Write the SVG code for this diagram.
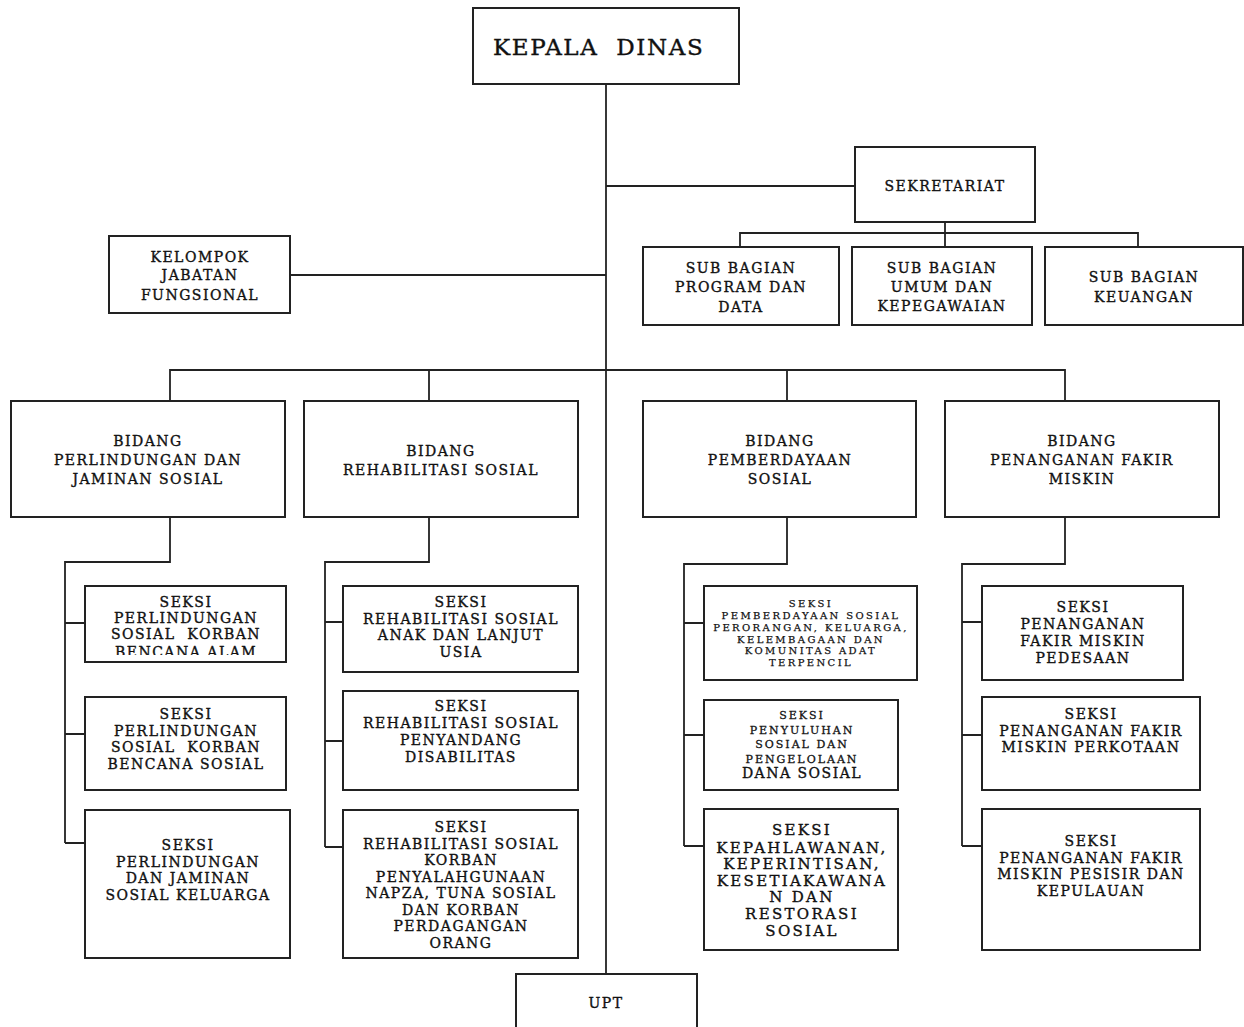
<svg xmlns="http://www.w3.org/2000/svg" width="1244" height="1027" viewBox="0 0 1244 1027">
<style>
.box{fill:#fff;stroke:#222;stroke-width:2}
.ln{fill:none;stroke:#222;stroke-width:1.8}
text{font-family:"DejaVu Serif","Liberation Serif",serif;fill:#111;stroke:#111;stroke-width:0.35;text-anchor:middle;dominant-baseline:central}
.t{font-size:14px;letter-spacing:1.5px}
.s{font-size:10px;letter-spacing:2.4px;stroke-width:0.25}
.m{font-size:11px;letter-spacing:2px;stroke-width:0.3}
.l{font-size:15px;letter-spacing:2.3px}
.h{font-size:23px;letter-spacing:1.6px;text-anchor:start;stroke-width:0.4}
</style>
<defs>
<clipPath id="clipA"><rect x="85" y="586" width="201" height="69"/></clipPath>
</defs>
<rect width="1244" height="1027" fill="#fff"/>
<g id="connectors">
<path class="ln" d="M606 84V974"/>
<path class="ln" d="M606 186H855"/>
<path class="ln" d="M290 275H606"/>
<path class="ln" d="M945 222V233M740 247V233H1138V247M945 233V247"/>
<path class="ln" d="M170 401V370H1065V401M429 370V401M787 370V401"/>
<path class="ln" d="M170 517V562H65V843M65 623H85M65 734H85M65 843H85"/>
<path class="ln" d="M429 517V562H325V847M325 622H343M325 741H343M325 847H343"/>
<path class="ln" d="M787 517V564H684V846M684 623H704M684 735H704M684 846H704"/>
<path class="ln" d="M1065 517V564H962V846M962 622H982M962 735H982M962 846H982"/>
</g>
<g id="kepala">
<rect class="box" x="473" y="8" width="266" height="76"/>
<text class="h" x="493" y="47" xml:space="preserve">KEPALA  DINAS</text>
</g>
<g id="sekretariat">
<rect class="box" x="855" y="147" width="180" height="75"/>
<text class="t" x="945" y="186">SEKRETARIAT</text>
</g>
<g id="kelompok">
<rect class="box" x="109" y="236" width="181" height="77"/>
<text class="t" x="200" y="257">KELOMPOK</text>
<text class="t" x="200" y="275">JABATAN</text>
<text class="t" x="200" y="295">FUNGSIONAL</text>
</g>
<g id="subbag-program">
<rect class="box" x="643" y="247" width="196" height="78"/>
<text class="t" x="741" y="268">SUB BAGIAN</text>
<text class="t" x="741" y="287">PROGRAM DAN</text>
<text class="t" x="741" y="307">DATA</text>
</g>
<g id="subbag-umum">
<rect class="box" x="852" y="247" width="180" height="78"/>
<text class="t" x="942" y="268">SUB BAGIAN</text>
<text class="t" x="942" y="287">UMUM DAN</text>
<text class="t" x="942" y="306">KEPEGAWAIAN</text>
</g>
<g id="subbag-keuangan">
<rect class="box" x="1045" y="247" width="198" height="78"/>
<text class="t" x="1144" y="277">SUB BAGIAN</text>
<text class="t" x="1144" y="297">KEUANGAN</text>
</g>
<g id="bidang-perlindungan">
<rect class="box" x="11" y="401" width="274" height="116"/>
<text class="t" x="148" y="441">BIDANG</text>
<text class="t" x="148" y="460">PERLINDUNGAN DAN</text>
<text class="t" x="148" y="479">JAMINAN SOSIAL</text>
</g>
<g id="bidang-rehabilitasi">
<rect class="box" x="304" y="401" width="274" height="116"/>
<text class="t" x="441" y="451">BIDANG</text>
<text class="t" x="441" y="470">REHABILITASI SOSIAL</text>
</g>
<g id="bidang-pemberdayaan">
<rect class="box" x="643" y="401" width="273" height="116"/>
<text class="t" x="780" y="441">BIDANG</text>
<text class="t" x="780" y="460">PEMBERDAYAAN</text>
<text class="t" x="780" y="479">SOSIAL</text>
</g>
<g id="bidang-fakir">
<rect class="box" x="945" y="401" width="274" height="116"/>
<text class="t" x="1082" y="441">BIDANG</text>
<text class="t" x="1082" y="460">PENANGANAN FAKIR</text>
<text class="t" x="1082" y="479">MISKIN</text>
</g>
<g id="seksi-bencana-alam">
<rect class="box" x="85" y="586" width="201" height="76"/>
<g clip-path="url(#clipA)">
<text class="t" x="186" y="602">SEKSI</text>
<text class="t" x="186" y="618">PERLINDUNGAN</text>
<text class="t" x="186" y="634" xml:space="preserve">SOSIAL  KORBAN</text>
<text class="t" x="186" y="652">BENCANA ALAM</text>
</g>
</g>
<g id="seksi-bencana-sosial">
<rect class="box" x="85" y="697" width="201" height="93"/>
<text class="t" x="186" y="714">SEKSI</text>
<text class="t" x="186" y="731">PERLINDUNGAN</text>
<text class="t" x="186" y="747" xml:space="preserve">SOSIAL  KORBAN</text>
<text class="t" x="186" y="764">BENCANA SOSIAL</text>
</g>
<g id="seksi-jaminan-keluarga">
<rect class="box" x="85" y="810" width="205" height="148"/>
<text class="t" x="188" y="845">SEKSI</text>
<text class="t" x="188" y="862">PERLINDUNGAN</text>
<text class="t" x="188" y="878">DAN JAMINAN</text>
<text class="t" x="188" y="895">SOSIAL KELUARGA</text>
</g>
<g id="seksi-anak-lansia">
<rect class="box" x="343" y="586" width="235" height="86"/>
<text class="t" x="461" y="602">SEKSI</text>
<text class="t" x="461" y="619">REHABILITASI SOSIAL</text>
<text class="t" x="461" y="635">ANAK DAN LANJUT</text>
<text class="t" x="461" y="652">USIA</text>
</g>
<g id="seksi-disabilitas">
<rect class="box" x="343" y="691" width="235" height="99"/>
<text class="t" x="461" y="706">SEKSI</text>
<text class="t" x="461" y="723">REHABILITASI SOSIAL</text>
<text class="t" x="461" y="740">PENYANDANG</text>
<text class="t" x="461" y="757">DISABILITAS</text>
</g>
<g id="seksi-napza">
<rect class="box" x="343" y="810" width="235" height="148"/>
<text class="t" x="461" y="827">SEKSI</text>
<text class="t" x="461" y="844">REHABILITASI SOSIAL</text>
<text class="t" x="461" y="860">KORBAN</text>
<text class="t" x="461" y="877">PENYALAHGUNAAN</text>
<text class="t" x="461" y="893">NAPZA, TUNA SOSIAL</text>
<text class="t" x="461" y="910">DAN KORBAN</text>
<text class="t" x="461" y="926">PERDAGANGAN</text>
<text class="t" x="461" y="943">ORANG</text>
</g>
<g id="seksi-pemberdayaan-perorangan">
<rect class="box" x="704" y="586" width="213" height="94"/>
<text class="s" x="811" y="603">SEKSI</text>
<text class="s" x="811" y="615">PEMBERDAYAAN SOSIAL</text>
<text class="s" x="811" y="627">PERORANGAN, KELUARGA,</text>
<text class="s" x="811" y="639">KELEMBAGAAN DAN</text>
<text class="s" x="811" y="650">KOMUNITAS ADAT</text>
<text class="s" x="811" y="662">TERPENCIL</text>
</g>
<g id="seksi-penyuluhan">
<rect class="box" x="704" y="700" width="194" height="90"/>
<text class="m" x="802" y="715">SEKSI</text>
<text class="m" x="802" y="730">PENYULUHAN</text>
<text class="m" x="802" y="744">SOSIAL DAN</text>
<text class="m" x="802" y="759">PENGELOLAAN</text>
<text class="t" x="802" y="773">DANA SOSIAL</text>
</g>
<g id="seksi-kepahlawanan">
<rect class="box" x="704" y="809" width="194" height="141"/>
<text class="l" x="802" y="830">SEKSI</text>
<text class="l" x="802" y="848">KEPAHLAWANAN,</text>
<text class="l" x="802" y="864">KEPERINTISAN,</text>
<text class="l" x="802" y="881">KESETIAKAWANA</text>
<text class="l" x="802" y="897">N DAN</text>
<text class="l" x="802" y="914">RESTORASI</text>
<text class="l" x="802" y="931">SOSIAL</text>
</g>
<g id="seksi-pedesaan">
<rect class="box" x="982" y="586" width="201" height="94"/>
<text class="t" x="1083" y="607">SEKSI</text>
<text class="t" x="1083" y="624">PENANGANAN</text>
<text class="t" x="1083" y="641">FAKIR MISKIN</text>
<text class="t" x="1083" y="658">PEDESAAN</text>
</g>
<g id="seksi-perkotaan">
<rect class="box" x="982" y="697" width="218" height="93"/>
<text class="t" x="1091" y="714">SEKSI</text>
<text class="t" x="1091" y="731">PENANGANAN FAKIR</text>
<text class="t" x="1091" y="747">MISKIN PERKOTAAN</text>
</g>
<g id="seksi-pesisir">
<rect class="box" x="982" y="809" width="218" height="141"/>
<text class="t" x="1091" y="841">SEKSI</text>
<text class="t" x="1091" y="858">PENANGANAN FAKIR</text>
<text class="t" x="1091" y="874">MISKIN PESISIR DAN</text>
<text class="t" x="1091" y="891">KEPULAUAN</text>
</g>
<g id="upt">
<rect class="box" x="516" y="974" width="181" height="70"/>
<text class="t" x="606" y="1003">UPT</text>
</g>
</svg>
